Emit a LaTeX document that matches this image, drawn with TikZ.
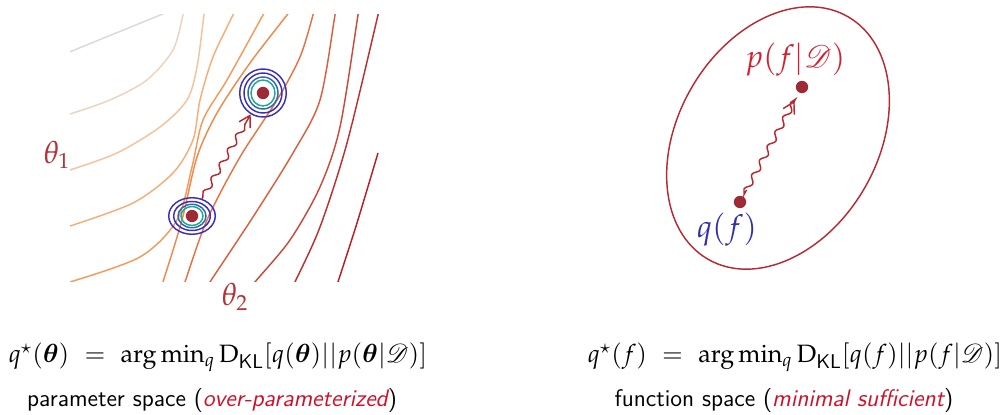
\documentclass[tikz,border=0pt]{standalone}
\usepackage{amsmath,amssymb,bm}
\usepackage{mathpazo}
\usepackage{mathrsfs}
\usepackage{tikz}
\usetikzlibrary{arrows.meta,decorations.pathmorphing,shapes.geometric}

\definecolor{dotred}{HTML}{9E2A36}
\definecolor{arrred}{HTML}{B8282E}
\definecolor{labred}{HTML}{D42030}
\definecolor{thred}{HTML}{B83038}
\definecolor{txtred}{HTML}{D0102A}
\definecolor{qblue}{HTML}{3030A8}
\definecolor{ringblue}{HTML}{3A30B8}
\definecolor{ringmid}{HTML}{3068B0}
\definecolor{ringteal}{HTML}{20A890}
\definecolor{ellred}{HTML}{B52A35}
\definecolor{cA}{HTML}{D9D9D9}
\definecolor{cB}{HTML}{ECD3BF}
\definecolor{cC}{HTML}{F6C29A}
\definecolor{cD}{HTML}{F7AD78}
\definecolor{cE}{HTML}{F39A5A}
\definecolor{cF}{HTML}{EE8A4C}
\definecolor{cG}{HTML}{E47444}
\definecolor{cH}{HTML}{D8603E}
\definecolor{cI}{HTML}{C94A3A}
\definecolor{cJ}{HTML}{BB3030}
\definecolor{cK}{HTML}{B81C28}

\begin{document}
\begin{tikzpicture}[x=0.55pt,y=0.55pt,
  dot/.style={circle,fill=dotred,inner sep=0pt,minimum size=6.8pt},
  wiggle/.style={draw=arrred,line width=0.8pt,decorate,
    decoration={snake,amplitude=1.5pt,segment length=9pt,pre length=1pt,post length=3pt},
    -{Straight Barb[length=6pt,width=7pt]}},
  contour/.style={line width=0.8pt},
  ring/.style={line width=0.8pt},
  outring/.style={ellipse,draw=ringblue,ring,inner sep=0pt},
  formula/.style={anchor=base,font=\fontsize{13.8}{16}\selectfont},
  caption/.style={anchor=base,font=\fontsize{13.2}{16}\selectfont\sffamily}]
\useasboundingbox (0,0) rectangle (1003,414);

\begin{scope}
\clip (70,132) rectangle (380,399);
\draw[contour,cA] (40,350) -- (180,407);
\draw[contour,cB] plot[smooth] coordinates {(70,300) (110,314) (147,334) (173,364) (183,399) (185,410)};
\draw[contour,cC] plot[smooth] coordinates {(70,244) (117,261) (160,287) (187,314) (197,347) (204,399) (206,410)};
\draw[contour,cD] plot[smooth] coordinates {(70,188) (133,211) (173,241) (193,274) (200,314) (213,357) (233,399) (238,410)};
\draw[contour,cE] plot[smooth] coordinates {(70,132) (140,157) (177,194) (192,247) (203,294) (227,334) (263,399) (269,410)};
\draw[contour,cF] plot[smooth] coordinates {(160,122) (163,132) (182,194) (197,257) (217,301) (250,351) (287,399) (295,410)};
\draw[contour,cG] plot[smooth] coordinates {(182,122) (185,132) (207,194) (240,257) (277,314) (300,357) (313,399) (315,410)};
\draw[contour,cH] plot[smooth] coordinates {(205,122) (210,132) (253,197) (293,261) (320,314) (335,399) (337,410)};
\draw[contour,cI] plot[smooth] coordinates {(248,122) (255,132) (290,174) (320,227) (340,287) (358,399) (360,410)};
\draw[contour,cJ] plot[smooth] coordinates {(290,122) (295,132) (320,187) (347,271) (378,399) (380,410)};
\draw[contour,cK] plot[smooth] coordinates {(335,122) (338,132) (357,191) (378,261)};
\end{scope}

\node[outring,minimum width=25.6pt,minimum height=20.1pt] (b1) at (192,198) {};
\draw[ring,ringblue] (b1.center) ellipse [x radius=18.3,y radius=14.5];
\draw[ring,ringmid] (b1.center) ellipse [x radius=14,y radius=11.7];
\draw[ring,ringteal] (b1.center) ellipse [x radius=11,y radius=9.5];
\node[dot] (q1) at (b1.center) {};

\node[outring,minimum width=25.6pt,minimum height=26.4pt] (t1) at (263,321) {};
\draw[ring,ringblue] (t1.center) ellipse [x radius=19,y radius=20];
\draw[ring,ringmid] (t1.center) ellipse [x radius=15,y radius=16];
\draw[ring,ringteal] (t1.center) ellipse [x radius=12,y radius=13];
\node[dot] (p1) at (t1.center) {};

\draw[wiggle] (b1) -- (t1);

\node[text=thred,font=\LARGE] (th1) at (57,259) {$\theta_1$};
\node[text=thred,font=\LARGE] (th2) at (235,117) {$\theta_2$};

\draw[ellred,line width=0.8pt,rotate around={60:(778,276)}] (778,276) ellipse [x radius=140,y radius=100];
\node[dot] (q2) at (740,212) {};
\node[dot] (p2) at (802,327) {};
\draw[wiggle,shorten <=4pt,shorten >=5pt] (q2) -- (p2);
\node[text=labred,font=\LARGE] (pl) at (795,354) {$p(f|\mathscr{D})$};
\node[text=qblue,font=\LARGE] (ql) at (727,184) {$q(f)$};

\node[formula] (f1) at (218,51)
  {$q^{\star}(\bm{\theta})\ =\ \arg\min_q \mathrm{D}_{\mathsf{KL}}[q(\bm{\theta})||p(\bm{\theta}|\mathscr{D})]$};
\node[caption] (t1txt) at (212,7)
  {parameter space (\textcolor{txtred}{\itshape over-parameterized})};
\node[formula] (f2) at (795,51)
  {$q^{\star}(f)\ =\ \arg\min_q \mathrm{D}_{\mathsf{KL}}[q(f)||p(f|\mathscr{D})]$};
\node[caption] (t2txt) at (784,7)
  {function space (\textcolor{txtred}{\itshape minimal sufficient})};
\end{tikzpicture}
\end{document}
